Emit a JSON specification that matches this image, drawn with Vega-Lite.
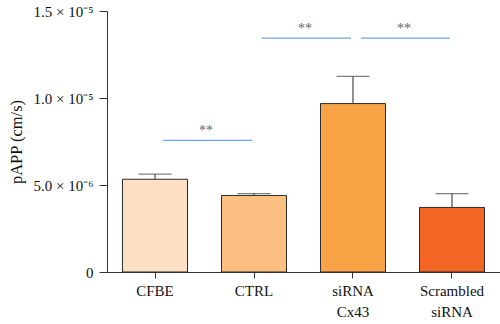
{
  "$schema": "https://vega.github.io/schema/vega-lite/v6.json",
  "width": 393,
  "height": 261,
  "autosize": "none",
  "padding": {"left": 107, "top": 11, "right": 0, "bottom": 52},
  "background": "white",
  "config": {
    "view": {"stroke": null},
    "font": "Liberation Serif"
  },
  "datasets": {
    "bars": [
      {"group": "CFBE", "value": 5.33e-6, "err": 5.63e-6, "color": "#FDE0C4"},
      {"group": "CTRL", "value": 4.40e-6, "err": 4.51e-6, "color": "#FBBF82"},
      {"group": "siRNA Cx43", "value": 9.68e-6, "err": 1.124e-5, "color": "#F8A346"},
      {"group": "Scrambled siRNA", "value": 3.71e-6, "err": 4.51e-6, "color": "#F26524"}
    ],
    "sig": [
      {"from": "CFBE", "to": "CTRL", "y": 7.57e-6, "label": "**"},
      {"from": "CTRL", "to": "siRNA Cx43", "y": 1.344e-5, "label": "**"},
      {"from": "siRNA Cx43", "to": "Scrambled siRNA", "y": 1.344e-5, "label": "**"}
    ]
  },
  "layer": [
    {
      "data": {"name": "bars"},
      "mark": {"type": "bar", "stroke": "#2b2b2b", "strokeWidth": 1, "width": 65},
      "encoding": {
        "x": {
          "field": "group", "type": "nominal", "sort": null,
          "scale": {"paddingInner": 0.34, "paddingOuter": 0.155},
          "axis": {
            "title": null, "labelAngle": 0, "labelFontSize": 15, "labelColor": "#111",
            "labelFont": "Liberation Serif", "domainColor": "#333", "tickColor": "#333",
            "tickSize": 6, "labelPadding": 5, "labelLineHeight": 21,
            "labelExpr": "datum.value == 'siRNA Cx43' ? ['siRNA', 'Cx43'] : datum.value == 'Scrambled siRNA' ? ['Scrambled', 'siRNA'] : datum.value"
          }
        },
        "y": {
          "field": "value", "type": "quantitative",
          "scale": {"domain": [0, 1.5e-5], "nice": false},
          "axis": {
            "title": "pAPP (cm/s)", "titleFontSize": 16.5, "titleFontWeight": "normal",
            "titleFont": "Liberation Serif", "titleColor": "#111", "titleX": -83,
            "values": [0, 5e-6, 1e-5, 1.5e-5], "grid": false,
            "labelFontSize": 15, "labelColor": "#111", "labelFont": "Liberation Serif",
            "domainColor": "#333", "tickColor": "#333", "tickSize": 8, "labelPadding": 6,
            "labelExpr": "datum.value == 0 ? '0' : datum.value < 7e-6 ? '5.0 × 10⁻⁶' : datum.value < 1.2e-5 ? '1.0 × 10⁻⁵' : '1.5 × 10⁻⁵'"
          }
        },
        "fill": {"field": "color", "type": "nominal", "scale": null, "legend": null}
      }
    },
    {
      "data": {"name": "bars"},
      "mark": {"type": "rule", "color": "#4a4a4a", "strokeWidth": 1.2},
      "encoding": {
        "x": {"field": "group", "type": "nominal", "sort": null},
        "y": {"field": "value", "type": "quantitative"},
        "y2": {"field": "err"}
      }
    },
    {
      "data": {"name": "bars"},
      "mark": {"type": "tick", "color": "#4a4a4a", "thickness": 1.2, "size": 33, "orient": "horizontal"},
      "encoding": {
        "x": {"field": "group", "type": "nominal", "sort": null},
        "y": {"field": "err", "type": "quantitative"}
      }
    },
    {
      "data": {"name": "sig"},
      "mark": {"type": "rule", "color": "#6FA6DE", "strokeWidth": 1.2},
      "encoding": {
        "x": {"field": "from", "type": "nominal", "sort": null, "bandPosition": 0.62},
        "x2": {"field": "to", "bandPosition": 0.47},
        "y": {"field": "y", "type": "quantitative"}
      }
    },
    {
      "data": {"name": "sig"},
      "mark": {"type": "text", "color": "#666", "fontSize": 14, "baseline": "bottom", "dy": -2, "font": "Liberation Serif"},
      "encoding": {
        "x": {"field": "from", "type": "nominal", "sort": null, "bandPosition": 1.28},
        "y": {"field": "y", "type": "quantitative"},
        "text": {"field": "label"}
      }
    }
  ]
}
